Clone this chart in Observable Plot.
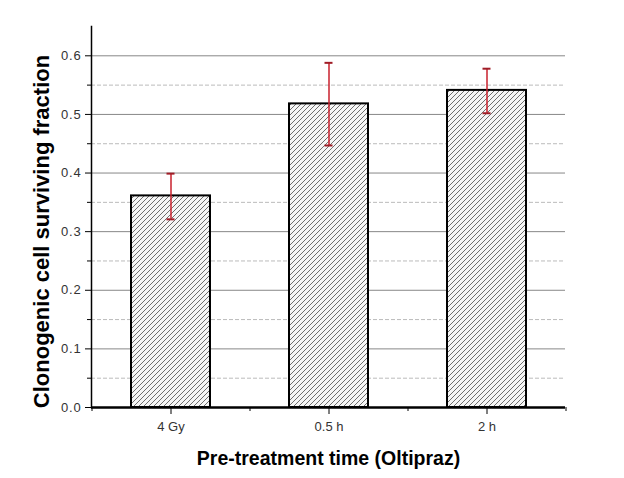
<!DOCTYPE html>
<html>
<head>
<meta charset="utf-8">
<script src="https://cdn.jsdelivr.net/npm/d3@7"></script>
<script src="https://cdn.jsdelivr.net/npm/@observablehq/plot@0.6"></script>
<style>
  html, body { margin: 0; padding: 0; background: white; }
  #chart svg [aria-label="x-axis tick label"] { font-size: 13px; }
  #chart svg [aria-label="y-axis tick label"] { font-size: 13px; letter-spacing: 0.8px; }
</style>
</head>
<body>
<svg width="0" height="0" style="position:absolute">
  <defs>
    <pattern id="hatch" patternUnits="userSpaceOnUse" width="5" height="5">
      <rect width="5" height="5" fill="#f6f6f6"></rect>
      <path d="M-1,1 l2,-2 M0,5 l5,-5 M4,6 l2,-2" stroke="#333" stroke-width="0.7"></path>
    </pattern>
  </defs>
</svg>
<div id="chart"></div>
<script>
const categories = ["4 Gy", "0.5 h", "2 h"];
const means = [0.361, 0.518, 0.541];
const lows = [0.321, 0.447, 0.502];
const highs = [0.399, 0.588, 0.578];
const yMajorTicks = [0, 0.1, 0.2, 0.3, 0.4, 0.5, 0.6];
const yMinorTicks = [0.05, 0.15, 0.25, 0.35, 0.45, 0.55];
const xTitle = "Pre-treatment time (Oltipraz)";
const yTitle = "Clonogenic cell surviving fraction";

const data = categories.map((c, i) => ({cat: c, mean: means[i], lo: lows[i], hi: highs[i]}));

const W = 624, H = 478, mL = 91, mR = 59, mT = 26, mB = 71;
const halfStep = (W - mL - mR) / categories.length / 2;

const chart = Plot.plot({
  width: W, height: H,
  marginLeft: mL, marginRight: mR, marginTop: mT, marginBottom: mB,
  style: {fontFamily: "'Liberation Sans', Arial, sans-serif", background: "white"},
  x: {domain: categories, paddingInner: 0.5, paddingOuter: 0.25},
  y: {domain: [0, 0.65]},
  marks: [
    Plot.ruleY(yMinorTicks, {stroke: "#bbb", strokeDasharray: "4,2"}),
    Plot.ruleY(yMajorTicks.slice(1), {stroke: "#888"}),
    Plot.barY(data, {x: "cat", y: "mean", fill: "url(#hatch)", stroke: "black", strokeWidth: 2}),
    Plot.ruleX(data, {x: "cat", y1: "lo", y2: "hi", stroke: "#c8202c", strokeWidth: 1.5}),
    Plot.tickY(data, {x: "cat", y: "lo", stroke: "#a01c26", strokeWidth: 2, insetLeft: 35.5, insetRight: 35.5}),
    Plot.tickY(data, {x: "cat", y: "hi", stroke: "#a01c26", strokeWidth: 2, insetLeft: 35.5, insetRight: 35.5}),
    Plot.axisY({ticks: yMajorTicks, tickSize: 6, tickPadding: 4, tickFormat: d3.format(".1f"), fontSize: 13, stroke: "black", fill: "#333", label: null}),
    Plot.axisY({ticks: yMinorTicks, tickSize: 4, text: null, stroke: "black", label: null}),
    Plot.frame({anchor: "left", stroke: "black", strokeWidth: 1.5}),
    Plot.ruleY([0], {stroke: "black", strokeWidth: 2.5}),
    Plot.axisX({tickSize: 7, tickPadding: 7, fontSize: 13, stroke: "black", fill: "#333", label: null}),
    Plot.axisX({ticks: categories, dx: -halfStep, tickSize: 4, text: null, stroke: "black", label: null}),
    Plot.axisX({ticks: categories.slice(-1), dx: halfStep, tickSize: 4, text: null, stroke: "black", label: null}),
    Plot.text([yTitle], {frameAnchor: "left", textAnchor: "middle", lineAnchor: "middle", dx: -50, dy: 14.5, rotate: -90, fontSize: 22, fontWeight: "bold", fill: "black"}),
    Plot.text([xTitle], {frameAnchor: "bottom", textAnchor: "middle", lineAnchor: "middle", dx: 0, dy: 51, fontSize: 19.5, fontWeight: "bold", fill: "black"})
  ]
});
document.getElementById("chart").appendChild(chart);
</script>
</body>
</html>
